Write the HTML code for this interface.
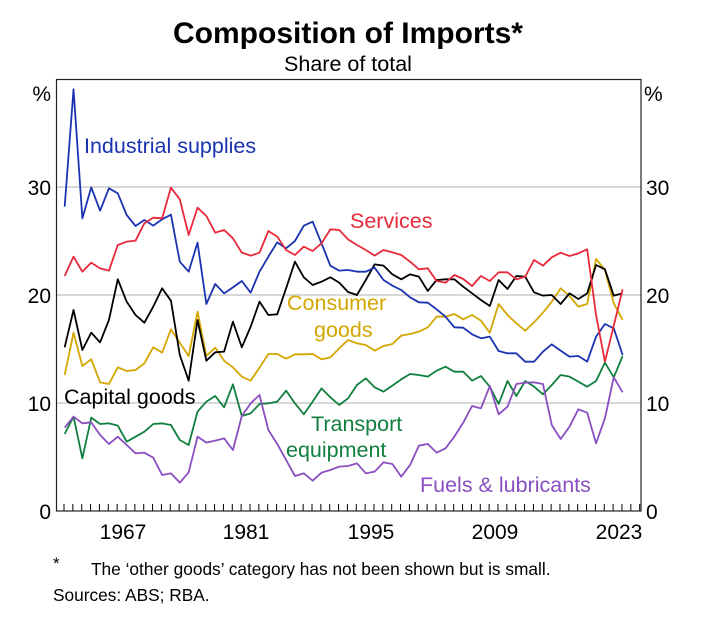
<!DOCTYPE html>
<html><head><meta charset="utf-8"><style>
html,body{margin:0;padding:0;background:#fff;}
svg{display:block;font-family:"Liberation Sans",Arial,sans-serif;}
</style></head><body>
<svg id="s" width="702" height="617" viewBox="0 0 702 617" xmlns="http://www.w3.org/2000/svg">
<text x="348" y="43" text-anchor="middle" font-size="30" font-weight="bold">Composition of Imports*</text>
<text x="348" y="71" text-anchor="middle" font-size="21.5">Share of total</text>
<g stroke="#cccccc" stroke-width="1.5">
<line x1="56" y1="403" x2="641" y2="403"/><line x1="56" y1="295" x2="641" y2="295"/><line x1="56" y1="187" x2="641" y2="187"/>
</g>
<g id="ticks" stroke="#000" stroke-width="1"></g>
<rect x="56.5" y="79.5" width="584.5" height="431.5" fill="none" stroke="#222" stroke-width="1.2"/>
<g id="series" transform="translate(56,80) scale(0.33333)" fill="none" stroke-width="5.4" stroke-linejoin="round"></g>
<g font-size="21">
<text x="51" y="101" text-anchor="end">%</text><text x="644" y="101">%</text>
<text x="51" y="195" text-anchor="end">30</text><text x="646" y="195">30</text>
<text x="51" y="303" text-anchor="end">20</text><text x="646" y="303">20</text>
<text x="51" y="411" text-anchor="end">10</text><text x="646" y="411">10</text>
<text x="51" y="519" text-anchor="end">0</text><text x="646" y="519">0</text>
<text x="123" y="539" text-anchor="middle">1967</text>
<text x="246" y="539" text-anchor="middle">1981</text>
<text x="371" y="539" text-anchor="middle">1995</text>
<text x="495" y="539" text-anchor="middle">2009</text>
<text x="619" y="539" text-anchor="middle">2023</text>
</g>
<g font-size="21.5">
<text x="84" y="153" fill="#1a33b0">Industrial supplies</text>
<text x="350" y="228" fill="#e8293a">Services</text>
<text x="287" y="310" fill="#d4a600">Consumer</text>
<text x="314" y="337" fill="#d4a600">goods</text>
<text x="64" y="404" fill="#000">Capital goods</text>
<text x="311" y="431" fill="#11803f">Transport</text>
<text x="286" y="457" fill="#11803f">equipment</text>
<text x="420" y="492" fill="#8a4fc0">Fuels &amp; lubricants</text>
</g>
<text x="53" y="569" font-size="17">*</text>
<text x="91" y="575" font-size="17.3">The ‘other goods’ category has not been shown but is small.</text>
<text x="53" y="601" font-size="17.3">Sources: ABS; RBA.</text>
</svg>
<script>
var S={
"#11803f":[1062,1010,1135,1013,1032,1030,1037,1085,1070,1055,1032,1030,1035,1080,1095,995,965,948,982,913,1008,1000,972,970,965,932,970,1003,965,925,952,975,955,
915,895,922,935,917,898,882,885,890,872,860,875,875,902,888,920,972,903,948,903,920,943,915,885,890,905,920,903,848,892,828],
"#8a4fc0":[1043,1010,1030,1027,1065,1092,1070,1095,1120,1118,1133,1185,1180,1208,1177,1070,1088,1082,1075,1110,1008,970,945,1050,1092,1140,1188,1180,1202,1178,1170,1160,1158,
1150,1180,1175,1147,1152,1190,1155,1097,1092,1118,1105,1070,1028,978,985,918,1003,980,912,908,907,912,1035,1077,1040,988,998,1090,1015,892,937],
"#d4a600":[885,758,858,838,907,912,862,873,870,850,802,818,748,788,828,695,828,803,842,862,890,902,863,822,822,836,823,823,822,838,832,805,780,
790,795,812,798,792,767,762,755,742,710,710,702,718,705,722,758,672,705,730,752,727,698,665,625,648,680,672,537,570,670,720],
"#000000":[802,690,810,758,787,720,598,665,705,728,680,625,662,825,902,720,842,817,815,725,802,740,665,705,703,625,545,592,615,605,592,608,636,
645,600,553,557,583,598,583,590,633,600,598,598,620,640,660,678,600,627,588,590,637,647,645,672,640,657,640,555,568,647,640],
"#1a33b0":[380,28,415,322,392,325,340,405,438,420,437,418,404,545,575,488,672,612,640,622,603,638,575,530,487,505,483,437,425,490,557,572,570,
575,575,563,600,617,630,652,667,668,688,710,742,743,763,775,770,813,820,820,845,845,815,793,812,830,828,845,770,732,745,825],
"#e8293a":[588,530,575,548,565,572,495,485,482,430,413,415,323,358,465,383,408,458,450,475,518,527,518,453,470,510,525,500,513,490,448,450,478,
495,510,527,510,517,525,545,568,565,603,608,585,597,618,588,603,577,577,598,590,540,557,532,518,528,520,508,705,845,737,628]};
var NS="http://www.w3.org/2000/svg",g=document.getElementById("series");
var order=["#11803f","#8a4fc0","#d4a600","#000000","#1a33b0","#e8293a"];
order.forEach(function(c){var a=S[c],p=[];for(var i=0;i<a.length;i++)p.push((26+26.57*i).toFixed(1)+","+a[i]);
var e=document.createElementNS(NS,"polyline");e.setAttribute("points",p.join(" "));e.setAttribute("stroke",c);g.appendChild(e);});
var t=document.getElementById("ticks");
for(var i=0;i<66;i++){var x=56+(24+26.57*i)/3;if(x>640)break;var l=document.createElementNS(NS,"line");
l.setAttribute("x1",x);l.setAttribute("x2",x);l.setAttribute("y1",504);l.setAttribute("y2",511);t.appendChild(l);}
</script>
</body></html>
